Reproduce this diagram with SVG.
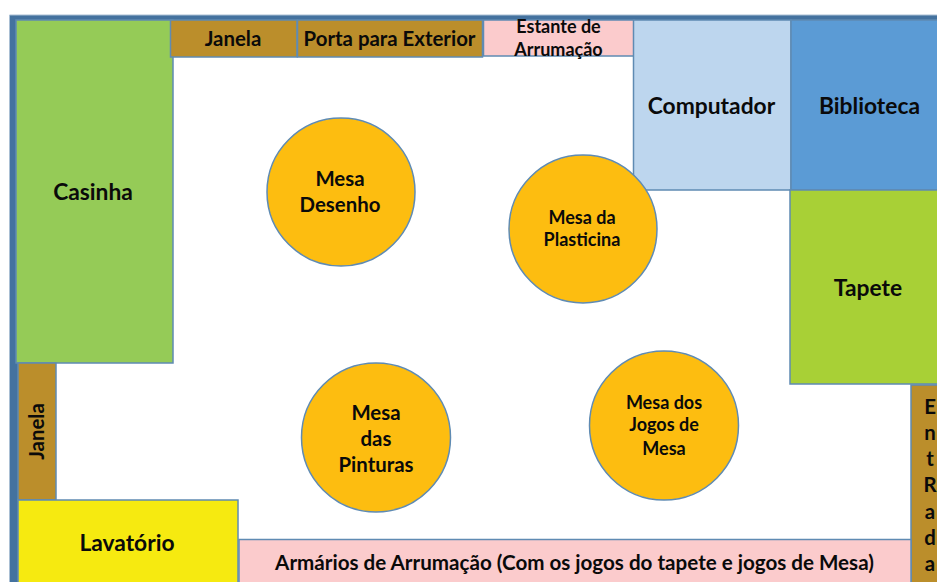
<svg xmlns="http://www.w3.org/2000/svg" width="937" height="582" viewBox="0 0 937 582">
<style>
text{font-family:Lato,"Liberation Sans",sans-serif;font-weight:700;fill:#0a0a0a;text-anchor:middle}
.s{stroke:#5f8bb3;stroke-width:1.5}
.c{fill:#fdbd10;stroke:#5f8bb3;stroke-width:1.5}
.brown{fill:#bb8e2b}
.pink{fill:#fbcbcc}
.t20{font-size:22.8px}.t18{font-size:20.4px}.t16{font-size:18px}
</style>
<rect width="937" height="582" fill="#fff"/>
<g id="parede"><path d="M937 15H9.5V582H18V20H937Z" fill="#44729f"/><path d="M937 15H9.5V582" fill="none" stroke="#a9bfd4" stroke-width="1"/></g>
<g id="casinha"><rect class="s" x="16" y="20" width="157" height="343" fill="#95cb57"/><text class="t20" x="93" y="199.500">Casinha</text></g>
<g id="janela-topo"><rect class="s brown" x="170.500" y="20" width="126.500" height="37"/><text class="t18" x="233" y="45.500">Janela</text></g>
<g id="porta"><rect class="s brown" x="297.500" y="20" width="185" height="37"/><text class="t18" x="389.500" y="45.500">Porta para Exterior</text></g>
<g id="estante"><rect class="s pink" x="483.500" y="20" width="151" height="36"/><text class="t16" x="558.500" y="33">Estante de</text><text class="t16" x="558.500" y="56">Arrumação</text></g>
<g id="computador"><rect class="s" x="633.500" y="20" width="157.500" height="170" fill="#bdd6ee"/><text class="t20" x="711.500" y="113.500">Computador</text></g>
<g id="biblioteca"><rect class="s" x="791" y="20" width="150" height="170" fill="#5b9bd5"/><text class="t20" x="869.500" y="113.500">Biblioteca</text></g>
<g id="tapete"><rect class="s" x="790" y="190" width="151" height="194" fill="#a8d036"/><text class="t20" x="868" y="295.500">Tapete</text></g>
<g id="entrada"><rect class="s brown" x="911" y="385" width="30" height="201"/>
<text class="t18" x="930" y="414">E</text><text class="t18" x="930" y="440">n</text><text class="t18" x="930" y="466">t</text><text class="t18" x="930" y="492">R</text><text class="t18" x="930" y="519">a</text><text class="t18" x="930" y="545">d</text><text class="t18" x="930" y="571">a</text></g>
<g id="janela-lateral"><rect class="s brown" x="18" y="363" width="38" height="137"/><text class="t18" transform="translate(43.500 431.500) rotate(-90)">Janela</text></g>
<g id="lavatorio"><rect class="s" x="18" y="500" width="220" height="86" fill="#f6ea10"/><text class="t20" x="127" y="550.500">Lavatório</text></g>
<g id="armarios"><rect class="s pink" x="239" y="539.500" width="672" height="46"/><text class="t18" style="font-size:20.6px" x="574.500" y="570">Armários de Arrumação (Com os jogos do tapete e jogos de Mesa)</text></g>
<g id="mesa-desenho"><circle class="c" cx="341" cy="192" r="74"/><text class="t18" x="340" y="185.500">Mesa</text><text class="t18" x="340" y="211.500">Desenho</text></g>
<g id="mesa-plasticina"><circle class="c" cx="583" cy="229" r="74"/><text class="t16" x="582" y="223.500">Mesa da</text><text class="t16" x="582" y="245.500">Plasticina</text></g>
<g id="mesa-pinturas"><circle class="c" cx="376" cy="437.500" r="74.500"/><text class="t18" x="376" y="419.500">Mesa</text><text class="t18" x="376" y="445.500">das</text><text class="t18" x="376" y="471.500">Pinturas</text></g>
<g id="mesa-jogos"><circle class="c" cx="664" cy="425.500" r="74.500"/><text class="t16" x="664" y="408.500">Mesa dos</text><text class="t16" x="664" y="431">Jogos de</text><text class="t16" x="664" y="454.500">Mesa</text></g>
<g id="conectores"/>
</svg>
